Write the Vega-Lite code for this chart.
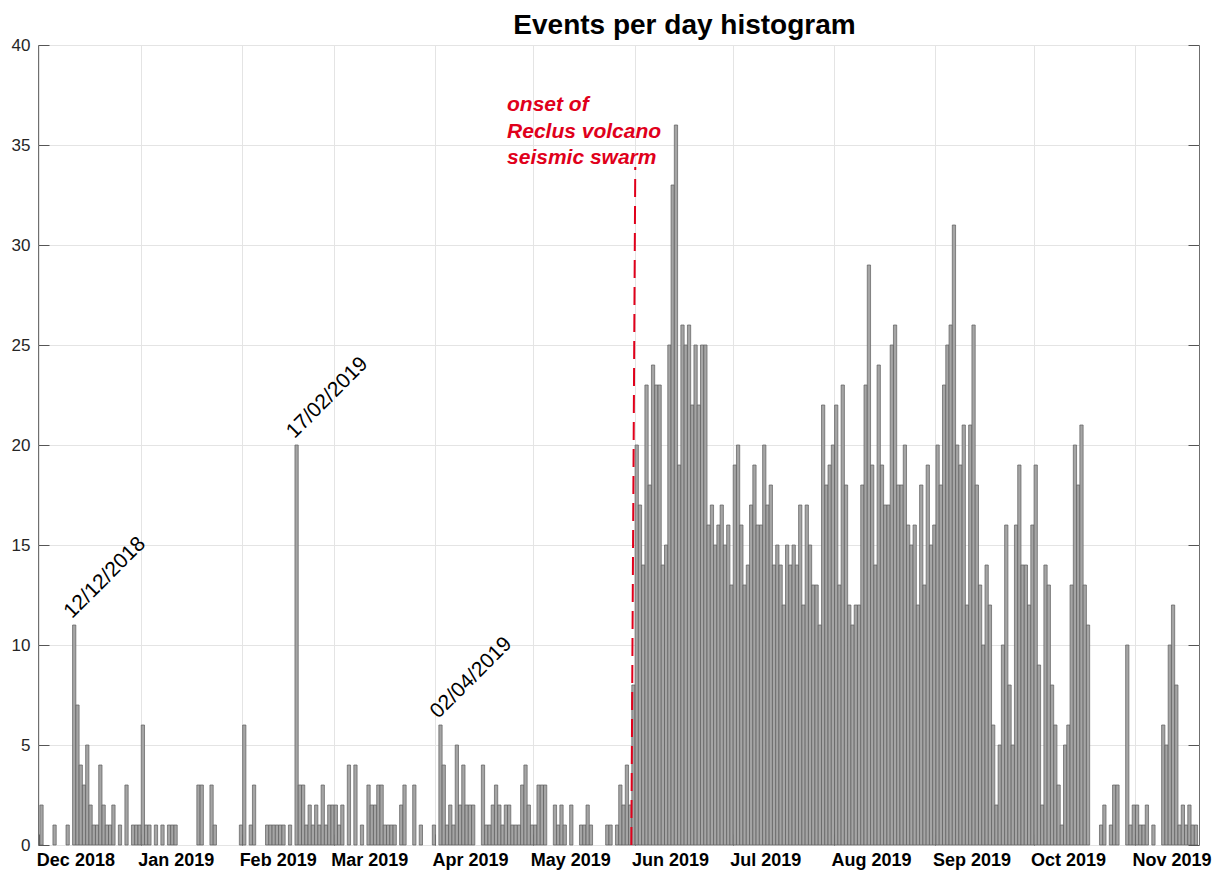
{
  "$schema": "https://vega.github.io/schema/vega-lite/v6.json",
  "width": 1161,
  "height": 800,
  "autosize": {"type": "none"},
  "padding": {"left": 38, "top": 45, "right": 21, "bottom": 29},
  "background": "white",
  "config": {
    "font": "Liberation Sans",
    "view": {"stroke": "#6f6f6f", "strokeWidth": 1}
  },
  "title": {
    "text": "Events per day histogram",
    "font": "Liberation Sans",
    "fontSize": 28,
    "fontWeight": "bold",
    "color": "#000000",
    "anchor": "middle",
    "baseline": "alphabetic",
    "offset": -26,
    "dx": 66
  },
  "datasets": {
    "events": [
      {"date": "2018-12-01", "count": 2}, {"date": "2018-12-05", "count": 1}, {"date": "2018-12-09", "count": 1},
      {"date": "2018-12-11", "count": 11}, {"date": "2018-12-12", "count": 7}, {"date": "2018-12-13", "count": 4},
      {"date": "2018-12-14", "count": 3}, {"date": "2018-12-15", "count": 5}, {"date": "2018-12-16", "count": 2},
      {"date": "2018-12-17", "count": 1}, {"date": "2018-12-18", "count": 1}, {"date": "2018-12-19", "count": 4},
      {"date": "2018-12-20", "count": 2}, {"date": "2018-12-21", "count": 1}, {"date": "2018-12-22", "count": 1},
      {"date": "2018-12-23", "count": 2}, {"date": "2018-12-25", "count": 1}, {"date": "2018-12-27", "count": 3},
      {"date": "2018-12-29", "count": 1}, {"date": "2018-12-30", "count": 1}, {"date": "2018-12-31", "count": 1},
      {"date": "2019-01-01", "count": 6}, {"date": "2019-01-02", "count": 1}, {"date": "2019-01-03", "count": 1},
      {"date": "2019-01-05", "count": 1}, {"date": "2019-01-07", "count": 1}, {"date": "2019-01-09", "count": 1},
      {"date": "2019-01-10", "count": 1}, {"date": "2019-01-11", "count": 1}, {"date": "2019-01-18", "count": 3},
      {"date": "2019-01-19", "count": 3}, {"date": "2019-01-22", "count": 3}, {"date": "2019-01-23", "count": 1},
      {"date": "2019-01-31", "count": 1},
      {"date": "2019-02-01", "count": 6}, {"date": "2019-02-03", "count": 1}, {"date": "2019-02-04", "count": 3},
      {"date": "2019-02-08", "count": 1}, {"date": "2019-02-09", "count": 1}, {"date": "2019-02-10", "count": 1},
      {"date": "2019-02-11", "count": 1}, {"date": "2019-02-12", "count": 1}, {"date": "2019-02-13", "count": 1},
      {"date": "2019-02-15", "count": 1}, {"date": "2019-02-17", "count": 20}, {"date": "2019-02-18", "count": 3},
      {"date": "2019-02-19", "count": 3}, {"date": "2019-02-20", "count": 1}, {"date": "2019-02-21", "count": 2},
      {"date": "2019-02-22", "count": 1}, {"date": "2019-02-23", "count": 2}, {"date": "2019-02-24", "count": 1},
      {"date": "2019-02-25", "count": 3}, {"date": "2019-02-26", "count": 1}, {"date": "2019-02-27", "count": 2},
      {"date": "2019-02-28", "count": 2},
      {"date": "2019-03-01", "count": 2}, {"date": "2019-03-02", "count": 1}, {"date": "2019-03-03", "count": 2},
      {"date": "2019-03-05", "count": 4}, {"date": "2019-03-07", "count": 4}, {"date": "2019-03-09", "count": 1},
      {"date": "2019-03-11", "count": 3}, {"date": "2019-03-12", "count": 2}, {"date": "2019-03-13", "count": 2},
      {"date": "2019-03-14", "count": 3}, {"date": "2019-03-15", "count": 3}, {"date": "2019-03-16", "count": 1},
      {"date": "2019-03-17", "count": 1}, {"date": "2019-03-18", "count": 1}, {"date": "2019-03-19", "count": 1},
      {"date": "2019-03-21", "count": 2}, {"date": "2019-03-22", "count": 3}, {"date": "2019-03-25", "count": 3},
      {"date": "2019-03-27", "count": 1}, {"date": "2019-03-31", "count": 1},
      {"date": "2019-04-02", "count": 6}, {"date": "2019-04-03", "count": 4}, {"date": "2019-04-04", "count": 1},
      {"date": "2019-04-05", "count": 2}, {"date": "2019-04-06", "count": 1}, {"date": "2019-04-07", "count": 5},
      {"date": "2019-04-08", "count": 2}, {"date": "2019-04-09", "count": 4}, {"date": "2019-04-10", "count": 2},
      {"date": "2019-04-11", "count": 2}, {"date": "2019-04-12", "count": 2}, {"date": "2019-04-15", "count": 4},
      {"date": "2019-04-16", "count": 1}, {"date": "2019-04-17", "count": 1}, {"date": "2019-04-18", "count": 2},
      {"date": "2019-04-19", "count": 3}, {"date": "2019-04-20", "count": 2}, {"date": "2019-04-21", "count": 1},
      {"date": "2019-04-22", "count": 2}, {"date": "2019-04-23", "count": 2}, {"date": "2019-04-24", "count": 1},
      {"date": "2019-04-25", "count": 1}, {"date": "2019-04-26", "count": 1}, {"date": "2019-04-27", "count": 3},
      {"date": "2019-04-28", "count": 4}, {"date": "2019-04-29", "count": 2}, {"date": "2019-04-30", "count": 1},
      {"date": "2019-05-01", "count": 1}, {"date": "2019-05-02", "count": 3}, {"date": "2019-05-03", "count": 3},
      {"date": "2019-05-04", "count": 3}, {"date": "2019-05-07", "count": 2}, {"date": "2019-05-08", "count": 1},
      {"date": "2019-05-09", "count": 2}, {"date": "2019-05-10", "count": 1}, {"date": "2019-05-12", "count": 2},
      {"date": "2019-05-15", "count": 1}, {"date": "2019-05-16", "count": 1}, {"date": "2019-05-17", "count": 2},
      {"date": "2019-05-18", "count": 1}, {"date": "2019-05-23", "count": 1}, {"date": "2019-05-24", "count": 1},
      {"date": "2019-05-26", "count": 1}, {"date": "2019-05-27", "count": 3}, {"date": "2019-05-28", "count": 2},
      {"date": "2019-05-29", "count": 4}, {"date": "2019-05-30", "count": 2}, {"date": "2019-05-31", "count": 8},
      {"date": "2019-06-01", "count": 20}, {"date": "2019-06-02", "count": 17}, {"date": "2019-06-03", "count": 14},
      {"date": "2019-06-04", "count": 23}, {"date": "2019-06-05", "count": 18}, {"date": "2019-06-06", "count": 24},
      {"date": "2019-06-07", "count": 23}, {"date": "2019-06-08", "count": 23}, {"date": "2019-06-09", "count": 14},
      {"date": "2019-06-10", "count": 15}, {"date": "2019-06-11", "count": 25}, {"date": "2019-06-12", "count": 33},
      {"date": "2019-06-13", "count": 36}, {"date": "2019-06-14", "count": 19}, {"date": "2019-06-15", "count": 26},
      {"date": "2019-06-16", "count": 25}, {"date": "2019-06-17", "count": 26}, {"date": "2019-06-18", "count": 22},
      {"date": "2019-06-19", "count": 25}, {"date": "2019-06-20", "count": 22}, {"date": "2019-06-21", "count": 25},
      {"date": "2019-06-22", "count": 25}, {"date": "2019-06-23", "count": 16}, {"date": "2019-06-24", "count": 17},
      {"date": "2019-06-25", "count": 15}, {"date": "2019-06-26", "count": 16}, {"date": "2019-06-27", "count": 17},
      {"date": "2019-06-28", "count": 15}, {"date": "2019-06-29", "count": 16}, {"date": "2019-06-30", "count": 13},
      {"date": "2019-07-01", "count": 19}, {"date": "2019-07-02", "count": 20}, {"date": "2019-07-03", "count": 16},
      {"date": "2019-07-04", "count": 13}, {"date": "2019-07-05", "count": 14}, {"date": "2019-07-06", "count": 17},
      {"date": "2019-07-07", "count": 19}, {"date": "2019-07-08", "count": 16}, {"date": "2019-07-09", "count": 16},
      {"date": "2019-07-10", "count": 20}, {"date": "2019-07-11", "count": 17}, {"date": "2019-07-12", "count": 18},
      {"date": "2019-07-13", "count": 14}, {"date": "2019-07-14", "count": 15}, {"date": "2019-07-15", "count": 14},
      {"date": "2019-07-16", "count": 12}, {"date": "2019-07-17", "count": 15}, {"date": "2019-07-18", "count": 14},
      {"date": "2019-07-19", "count": 15}, {"date": "2019-07-20", "count": 14}, {"date": "2019-07-21", "count": 17},
      {"date": "2019-07-22", "count": 12}, {"date": "2019-07-23", "count": 17}, {"date": "2019-07-24", "count": 15},
      {"date": "2019-07-25", "count": 13}, {"date": "2019-07-26", "count": 13}, {"date": "2019-07-27", "count": 11},
      {"date": "2019-07-28", "count": 22}, {"date": "2019-07-29", "count": 18}, {"date": "2019-07-30", "count": 19},
      {"date": "2019-07-31", "count": 20},
      {"date": "2019-08-01", "count": 22}, {"date": "2019-08-02", "count": 13}, {"date": "2019-08-03", "count": 23},
      {"date": "2019-08-04", "count": 18}, {"date": "2019-08-05", "count": 12}, {"date": "2019-08-06", "count": 11},
      {"date": "2019-08-07", "count": 12}, {"date": "2019-08-08", "count": 12}, {"date": "2019-08-09", "count": 18},
      {"date": "2019-08-10", "count": 23}, {"date": "2019-08-11", "count": 29}, {"date": "2019-08-12", "count": 19},
      {"date": "2019-08-13", "count": 14}, {"date": "2019-08-14", "count": 24}, {"date": "2019-08-15", "count": 19},
      {"date": "2019-08-16", "count": 17}, {"date": "2019-08-17", "count": 17}, {"date": "2019-08-18", "count": 25},
      {"date": "2019-08-19", "count": 26}, {"date": "2019-08-20", "count": 18}, {"date": "2019-08-21", "count": 18},
      {"date": "2019-08-22", "count": 20}, {"date": "2019-08-23", "count": 16}, {"date": "2019-08-24", "count": 15},
      {"date": "2019-08-25", "count": 16}, {"date": "2019-08-26", "count": 12}, {"date": "2019-08-27", "count": 18},
      {"date": "2019-08-28", "count": 13}, {"date": "2019-08-29", "count": 19}, {"date": "2019-08-30", "count": 15},
      {"date": "2019-08-31", "count": 16},
      {"date": "2019-09-01", "count": 20}, {"date": "2019-09-02", "count": 18}, {"date": "2019-09-03", "count": 23},
      {"date": "2019-09-04", "count": 25}, {"date": "2019-09-05", "count": 26}, {"date": "2019-09-06", "count": 31},
      {"date": "2019-09-07", "count": 20}, {"date": "2019-09-08", "count": 19}, {"date": "2019-09-09", "count": 21},
      {"date": "2019-09-10", "count": 12}, {"date": "2019-09-11", "count": 21}, {"date": "2019-09-12", "count": 26},
      {"date": "2019-09-13", "count": 18}, {"date": "2019-09-14", "count": 13}, {"date": "2019-09-15", "count": 10},
      {"date": "2019-09-16", "count": 14}, {"date": "2019-09-17", "count": 12}, {"date": "2019-09-18", "count": 6},
      {"date": "2019-09-19", "count": 2}, {"date": "2019-09-20", "count": 5}, {"date": "2019-09-21", "count": 10},
      {"date": "2019-09-22", "count": 16}, {"date": "2019-09-23", "count": 8}, {"date": "2019-09-24", "count": 5},
      {"date": "2019-09-25", "count": 16}, {"date": "2019-09-26", "count": 19}, {"date": "2019-09-27", "count": 14},
      {"date": "2019-09-28", "count": 14}, {"date": "2019-09-29", "count": 12}, {"date": "2019-09-30", "count": 16},
      {"date": "2019-10-01", "count": 19}, {"date": "2019-10-02", "count": 9}, {"date": "2019-10-03", "count": 2},
      {"date": "2019-10-04", "count": 14}, {"date": "2019-10-05", "count": 13}, {"date": "2019-10-06", "count": 8},
      {"date": "2019-10-07", "count": 6}, {"date": "2019-10-08", "count": 3}, {"date": "2019-10-09", "count": 1},
      {"date": "2019-10-10", "count": 5}, {"date": "2019-10-11", "count": 6}, {"date": "2019-10-12", "count": 13},
      {"date": "2019-10-13", "count": 20}, {"date": "2019-10-14", "count": 18}, {"date": "2019-10-15", "count": 21},
      {"date": "2019-10-16", "count": 13}, {"date": "2019-10-17", "count": 11}, {"date": "2019-10-21", "count": 1},
      {"date": "2019-10-22", "count": 2}, {"date": "2019-10-24", "count": 1}, {"date": "2019-10-25", "count": 3},
      {"date": "2019-10-26", "count": 3}, {"date": "2019-10-29", "count": 10}, {"date": "2019-10-30", "count": 1},
      {"date": "2019-10-31", "count": 2},
      {"date": "2019-11-01", "count": 2}, {"date": "2019-11-02", "count": 1}, {"date": "2019-11-03", "count": 1},
      {"date": "2019-11-04", "count": 2}, {"date": "2019-11-06", "count": 1}, {"date": "2019-11-09", "count": 6},
      {"date": "2019-11-10", "count": 5}, {"date": "2019-11-11", "count": 10}, {"date": "2019-11-12", "count": 12},
      {"date": "2019-11-13", "count": 8}, {"date": "2019-11-14", "count": 1}, {"date": "2019-11-15", "count": 2},
      {"date": "2019-11-16", "count": 1}, {"date": "2019-11-17", "count": 2}, {"date": "2019-11-18", "count": 1},
      {"date": "2019-11-19", "count": 1}
    ],
    "peaks": [
      {"date": "2018-12-11", "count": 11, "label": "12/12/2018"},
      {"date": "2019-02-17", "count": 20, "label": "17/02/2019"},
      {"date": "2019-04-02", "count": 6, "label": "02/04/2019"}
    ]
  },
  "resolve": {"axis": {"x": "independent", "y": "independent"}},
  "layer": [
    {
      "data": {"name": "events"},
      "mark": {"type": "bar", "fill": "#a5a5a5", "stroke": "#5c5c5c", "strokeWidth": 0.7, "binSpacing": 0},
      "encoding": {
        "x": {
          "field": "date",
          "type": "temporal",
          "timeUnit": "utcyearmonthdate",
          "scale": {
            "type": "utc",
            "domain": [
              {"year": 2018, "month": 11, "date": 30, "hours": 14, "utc": true},
              {"year": 2019, "month": 11, "date": 20, "hours": 14, "utc": true}
            ]
          },
          "axis": {
            "orient": "bottom",
            "title": null,
            "values": [
              {"year": 2018, "month": 12, "date": 1, "utc": true},
              {"year": 2019, "month": 1, "date": 1, "utc": true},
              {"year": 2019, "month": 2, "date": 1, "utc": true},
              {"year": 2019, "month": 3, "date": 1, "utc": true},
              {"year": 2019, "month": 4, "date": 1, "utc": true},
              {"year": 2019, "month": 5, "date": 1, "utc": true},
              {"year": 2019, "month": 6, "date": 1, "utc": true},
              {"year": 2019, "month": 7, "date": 1, "utc": true},
              {"year": 2019, "month": 8, "date": 1, "utc": true},
              {"year": 2019, "month": 9, "date": 1, "utc": true},
              {"year": 2019, "month": 10, "date": 1, "utc": true},
              {"year": 2019, "month": 11, "date": 1, "utc": true}
            ],
            "labelExpr": "utcFormat(datum.value, '%b %Y')",
            "labelAlign": "left",
            "labelOffset": -3,
            "labelBound": false,
            "labelFlush": false,
            "labelOverlap": false,
            "labelFont": "Liberation Sans",
            "labelFontSize": 18,
            "labelFontWeight": "bold",
            "labelColor": "#000000",
            "labelPadding": 17,
            "domain": false,
            "grid": true,
            "gridColor": "#e4e4e4",
            "gridWidth": 1,
            "ticks": true,
            "tickSize": -11,
            "tickColor": "#555555",
            "tickWidth": 1
          }
        },
        "y": {
          "field": "count",
          "type": "quantitative",
          "scale": {"domain": [0, 40], "nice": false, "zero": true},
          "axis": {
            "orient": "left",
            "title": null,
            "values": [0, 5, 10, 15, 20, 25, 30, 35, 40],
            "labelFont": "Liberation Sans",
            "labelFontSize": 17,
            "labelColor": "#262626",
            "labelPadding": 19,
            "domain": false,
            "grid": true,
            "gridColor": "#e4e4e4",
            "gridWidth": 1,
            "ticks": true,
            "tickSize": -11,
            "tickColor": "#555555",
            "tickWidth": 1
          }
        }
      }
    },
    {
      "data": {"name": "events"},
      "mark": {"type": "point", "opacity": 0},
      "encoding": {
        "x": {"field": "date", "type": "temporal", "axis": null},
        "y": {
          "field": "count",
          "type": "quantitative",
          "axis": {
            "orient": "right",
            "title": null,
            "labels": false,
            "grid": false,
            "domain": false,
            "values": [0, 5, 10, 15, 20, 25, 30, 35, 40],
            "ticks": true,
            "tickSize": -11,
            "tickColor": "#555555"
          }
        }
      }
    },
    {
      "data": {"values": [{"note": "onset"}]},
      "mark": {"type": "rule", "color": "#e0001b", "strokeWidth": 2, "strokeDash": [18, 9]},
      "encoding": {
        "x": {"datum": {"year": 2019, "month": 5, "date": 31, "hours": 0, "utc": true}, "type": "temporal", "axis": null},
        "x2": {"datum": {"year": 2019, "month": 6, "date": 1, "hours": 5, "utc": true}},
        "y": {"datum": 0, "type": "quantitative", "axis": null},
        "y2": {"datum": 33.9}
      }
    },
    {
      "data": {"values": [{"label": "onset of\nReclus volcano\nseismic swarm"}]},
      "mark": {
        "type": "text",
        "align": "left",
        "baseline": "alphabetic",
        "font": "Liberation Sans",
        "fontSize": 21,
        "fontWeight": "bold",
        "fontStyle": "italic",
        "fill": "#e0001b",
        "lineBreak": "\n",
        "lineHeight": 26.5
      },
      "encoding": {
        "x": {"datum": {"year": 2019, "month": 4, "date": 23, "utc": true}, "type": "temporal", "axis": null},
        "y": {"datum": 36.7, "type": "quantitative", "axis": null},
        "text": {"field": "label"}
      }
    },
    {
      "data": {"name": "peaks"},
      "mark": {
        "type": "text",
        "angle": 315,
        "align": "left",
        "baseline": "alphabetic",
        "font": "Liberation Sans",
        "fontSize": 21,
        "fill": "#000000",
        "dx": 4,
        "dy": -4
      },
      "encoding": {
        "x": {"field": "date", "type": "temporal", "axis": null},
        "y": {"field": "count", "type": "quantitative", "axis": null},
        "text": {"field": "label"}
      }
    }
  ]
}
